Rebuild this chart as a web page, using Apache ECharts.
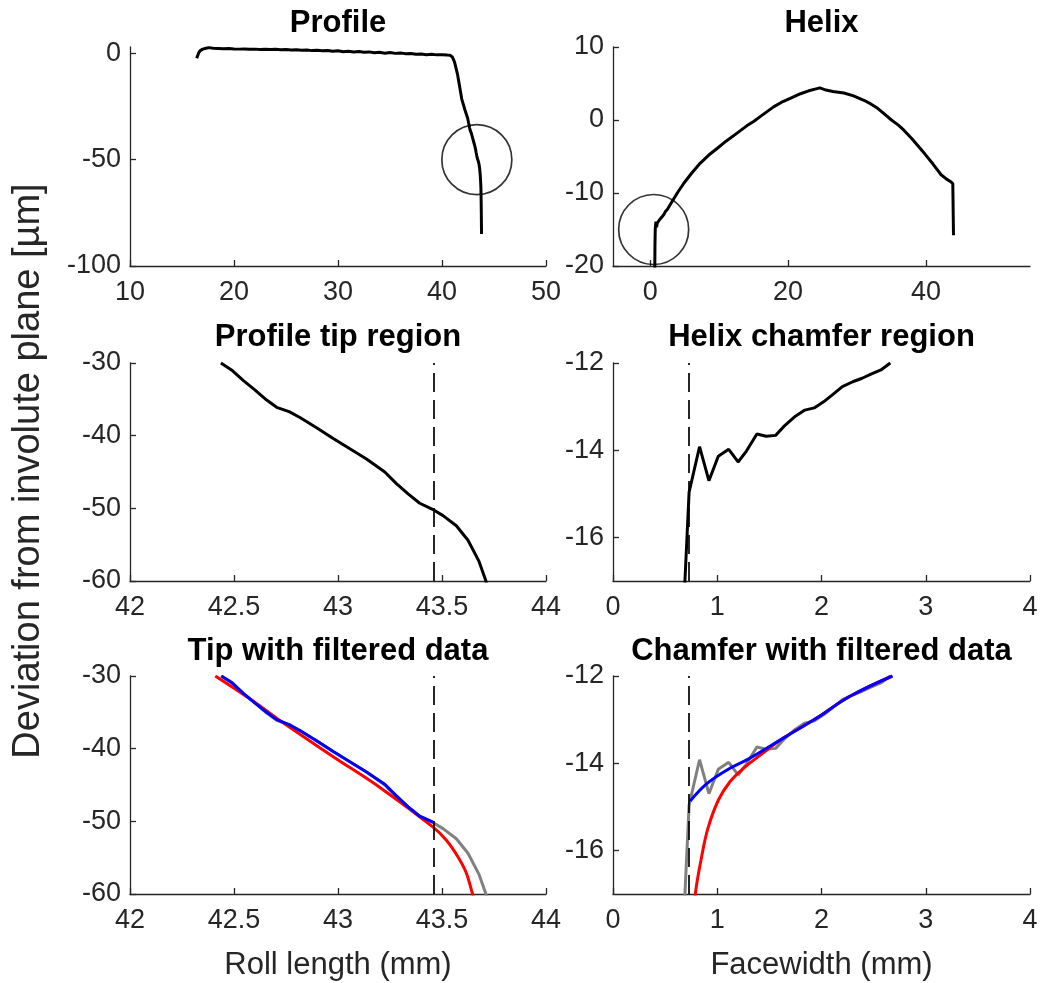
<!DOCTYPE html>
<html>
<head>
<meta charset="utf-8">
<script src="https://cdn.jsdelivr.net/npm/echarts@6/dist/echarts.min.js"></script>
<style>
html,body{margin:0;padding:0;background:#fff;}
#chart{width:1042px;height:983px;}
</style>
</head>
<body>
<div id="chart"></div>
<script>
// ---------- Data ----------
const titles = ["Profile", "Helix", "Profile tip region", "Helix chamfer region", "Tip with filtered data", "Chamfer with filtered data"];
const yAxisTitle = "Deviation from involute plane [µm]";
const xAxisTitles = ["Roll length (mm)", "Facewidth (mm)"];

// Raw profile: flat part and drop toward the tip
const profileFlatX = [16.41,16.5,16.6,16.75,17.0,17.3,17.6,18.0,18.5,19.0,19.5,20,20.5,21,21.5,22,22.5,23,23.5,24,24.5,25,25.5,26,26.5,27,27.5,28,28.5,29,29.5,30,30.5,31,31.5,32,32.5,33,33.5,34,34.5,35,35.5,36,36.1,36.3,36.5,37,37.5,38,38.5,39,39.5,40,40.5,40.8,41.0,41.2,41.5,41.9,42.2];
const profileFlatY = [-2.3,-1.2,0.2,1.3,2.0,2.4,2.7,2.4,2.3,2.2,2.3,2.1,2.0,2.1,1.9,2.0,1.8,1.9,1.8,1.9,1.7,1.8,1.6,1.7,1.5,1.6,1.3,1.5,1.2,1.4,1.0,1.2,0.8,1.0,0.6,0.9,0.5,0.7,0.3,0.5,0.1,0.4,0.0,0.2,1.0,0.0,-0.2,-0.1,-0.4,-0.3,-0.6,-0.4,-0.7,-0.6,-0.8,-0.9,-1.8,-4.0,-10.0,-21.5,-26.5];
// Raw profile tip region
const tipX = [42.437,42.488,42.544,42.6,42.657,42.705,42.765,42.817,42.897,42.977,43.057,43.137,43.225,43.281,43.337,43.393,43.452,43.505,43.569,43.625,43.678,43.71,43.74,43.76,43.78,43.8];
const tipY = [-30.0,-30.96,-32.4,-33.7,-35.1,-36.1,-36.7,-37.5,-38.9,-40.4,-41.8,-43.2,-45.0,-46.6,-48.0,-49.3,-50.1,-51.0,-52.4,-54.4,-57.3,-59.9,-63,-68,-75,-85];
// Filtered profile tip (blue) and fit (red)
const tipBlueX = [42.44,42.49,42.545,42.6,42.657,42.705,42.765,42.817,42.897,42.977,43.057,43.137,43.225,43.281,43.337,43.393,43.457];
const tipBlueY = [-30.0,-30.9,-32.4,-33.7,-35.0,-36.0,-36.7,-37.5,-38.9,-40.4,-41.8,-43.2,-44.9,-46.5,-48.0,-49.3,-50.1];
const tipRedX = [42.41,42.6,42.705,42.977,43.2,43.457,43.521,43.577,43.617,43.646,43.67];
const tipRedY = [-30.0,-33.6,-35.8,-41.1,-45.3,-50.8,-52.6,-54.9,-57.1,-59.9,-62.0];

// Raw helix: chamfer part and rest of facewidth
const chamferX = [0.66,0.69,0.73,0.83,0.92,1.01,1.11,1.2,1.28,1.38,1.47,1.56,1.65,1.75,1.84,1.93,2.02,2.11,2.2,2.3,2.39,2.48,2.57,2.66];
const chamferY = [-21,-17,-14.96,-13.92,-14.7,-14.14,-13.98,-14.27,-14.02,-13.63,-13.68,-13.66,-13.43,-13.22,-13.08,-13.03,-12.89,-12.72,-12.54,-12.43,-12.35,-12.25,-12.16,-12.0];
const helixRestX = [3.15,4.0,4.85,6.0,7.27,8.5,9.7,11.0,12.6,14.0,15.0,16.0,17.9,19.0,20.4,21.8,23.0,24.2,24.6,25.5,26.5,28.1,29.5,31.0,32.0,33.0,34.0,35.0,36.0,36.8,38.0,39.8,41.0,42.2,43.0,43.6,43.9,44.0];
const helixRestY = [-11.2,-9.9,-8.7,-7.3,-5.9,-4.8,-3.9,-2.9,-1.8,-0.8,-0.2,0.5,1.8,2.4,3.0,3.6,4.0,4.3,4.4,4.1,3.9,3.7,3.3,2.7,2.2,1.6,0.8,0.0,-0.7,-1.4,-2.6,-4.6,-6.0,-7.5,-8.1,-8.45,-8.7,-15.8];
// Filtered chamfer (blue) and fit (red)
const chamferBlueX = [0.74,0.9,1.09,1.31,1.63,1.95,2.27,2.68];
const chamferBlueY = [-14.87,-14.47,-14.16,-13.89,-13.43,-12.97,-12.47,-12.0];
const chamferRedX = [0.76,0.79,0.85,0.91,1.01,1.12,1.25,1.41,1.63,1.95,2.27,2.68];
const chamferRedY = [-18.0,-17.0,-16.15,-15.5,-14.85,-14.43,-14.12,-13.82,-13.43,-12.97,-12.47,-12.0];

// Markers
const profileCircle = [43.35, -50];
const helixCircle = [0.5, -15];
const tipLimit = 43.46;
const chamferLimit = 0.73;

// Axis ranges and ticks
const xRanges = [[10,50],[-5.4,55.1],[42,44],[0,4],[42,44],[0,4]];
const yRanges = [[-100,3],[-20,10],[-60,-30],[-17,-12],[-60,-30],[-17,-12]];
const xTicks = [[10,20,30,40,50],[0,20,40],[42,42.5,43,43.5,44],[0,1,2,3,4],[42,42.5,43,43.5,44],[0,1,2,3,4]];
const yTicks = [[-100,-50,0],[-20,-10,0,10],[-60,-50,-40,-30],[-16,-14,-12],[-60,-50,-40,-30],[-16,-14,-12]];

// ---------- Layout ----------
const colLeft = [130, 613];
const colWidth = [416, 417];
const rowTop = [47, 363, 676];
const rowHeight = [219, 218, 218];
const titleY = [23, 337, 651];

const FONT = '"Liberation Sans", Arial, Helvetica, sans-serif';
const AX = '#262626';

function zip(xs, ys) { return xs.map((x, i) => [x, ys[i]]); }

const grids = [], xAxes = [], yAxes = [], graphics = [];
for (let i = 0; i < 6; i++) {
  const r = Math.floor(i / 2), c = i % 2;
  grids.push({ left: colLeft[c], top: rowTop[r], width: colWidth[c], height: rowHeight[r], containLabel: false });
  xAxes.push({
    type: 'value', gridIndex: i, min: xRanges[i][0], max: xRanges[i][1],
    axisLine: { show: true, onZero: false, lineStyle: { color: AX, width: 1.3 } },
    axisTick: { show: true, inside: true, length: 6, customValues: xTicks[i], lineStyle: { color: AX, width: 1.3 } },
    axisLabel: { customValues: xTicks[i], fontSize: 27, color: AX, fontFamily: FONT, margin: 13 },
    splitLine: { show: false }
  });
  yAxes.push({
    type: 'value', gridIndex: i, min: yRanges[i][0], max: yRanges[i][1],
    axisLine: { show: true, onZero: false, lineStyle: { color: AX, width: 1.3 } },
    axisTick: { show: true, inside: true, length: 6, customValues: yTicks[i], lineStyle: { color: AX, width: 1.3 } },
    axisLabel: { customValues: yTicks[i], fontSize: 27, color: AX, fontFamily: FONT, margin: 9 },
    splitLine: { show: false }
  });
  graphics.push({
    type: 'text', x: colLeft[c] + colWidth[c] / 2, y: titleY[r],
    style: { text: titles[i], font: 'bold 31px ' + FONT, fill: '#000', textAlign: 'center', textVerticalAlign: 'middle' }
  });
}
graphics.push({
  type: 'text', x: 29, y: 471, rotation: Math.PI / 2,
  style: { text: yAxisTitle, font: '38px ' + FONT, fill: AX, textAlign: 'center', textVerticalAlign: 'middle' }
});
for (let c = 0; c < 2; c++) {
  graphics.push({
    type: 'text', x: colLeft[c] + colWidth[c] / 2, y: 965,
    style: { text: xAxisTitles[c], font: '31px ' + FONT, fill: AX, textAlign: 'center', textVerticalAlign: 'middle' }
  });
}

function line(i, data, color, width, extra) {
  return Object.assign({
    type: 'line', xAxisIndex: i, yAxisIndex: i, data: data, showSymbol: false, symbol: 'none',
    lineStyle: { color: color, width: width }, itemStyle: { color: color }, clip: true, animation: false, silent: true
  }, extra || {});
}
function dashed(value) {
  return { silent: true, symbol: ['none', 'none'], label: { show: false }, animation: false,
    lineStyle: { type: [19, 8], color: '#000', width: 1.7 }, data: [{ xAxis: value }] };
}
function circle(i, pos) {
  return { type: 'scatter', xAxisIndex: i, yAxisIndex: i, data: [pos], symbol: 'circle', symbolSize: 70,
    itemStyle: { color: 'rgba(0,0,0,0)', borderColor: '#000', borderWidth: 1.7 }, animation: false, silent: true, clip: false, z: 3 };
}

const profileAll = zip(profileFlatX, profileFlatY).concat(zip(tipX, tipY));
const helixAll = zip(chamferX, chamferY).concat(zip(helixRestX, helixRestY));

const series = [
  line(0, profileAll, '#000', 3),
  circle(0, profileCircle),
  line(1, helixAll, '#000', 3),
  circle(1, helixCircle),
  line(2, zip(tipX, tipY), '#000', 3, { markLine: dashed(tipLimit) }),
  line(3, zip(chamferX, chamferY), '#000', 3, { markLine: dashed(chamferLimit) }),
  line(4, zip(tipX, tipY), '#808080', 3, { markLine: dashed(tipLimit) }),
  line(4, zip(tipRedX, tipRedY), '#ff0000', 3, { smooth: 0.3 }),
  line(4, zip(tipBlueX, tipBlueY), '#0000ff', 3),
  line(5, zip(chamferX, chamferY), '#808080', 3, { markLine: dashed(chamferLimit) }),
  line(5, zip(chamferRedX, chamferRedY), '#ff0000', 3, { smooth: 0.4 }),
  line(5, zip(chamferBlueX, chamferBlueY), '#0000ff', 3, { smooth: 0.4 })
];

const chart = echarts.init(document.getElementById('chart'), null, { renderer: 'canvas' });
chart.setOption({
  backgroundColor: '#fff',
  animation: false,
  grid: grids, xAxis: xAxes, yAxis: yAxes, series: series, graphic: graphics,
  tooltip: { show: false }
});
</script>
</body>
</html>
